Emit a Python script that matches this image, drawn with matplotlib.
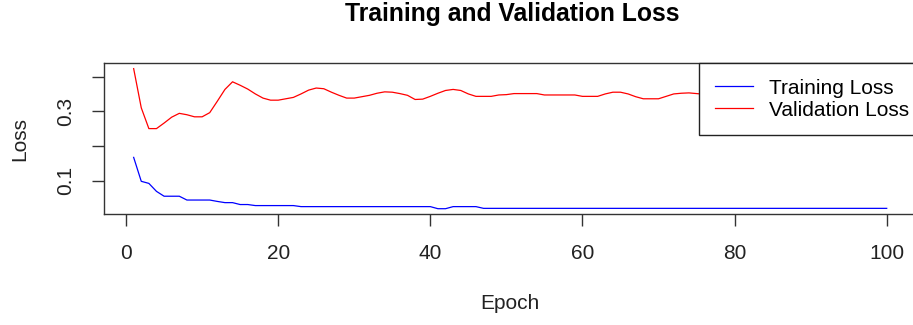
import numpy as np
import matplotlib.pyplot as plt

plt.rcParams['font.family'] = ['Liberation Sans', 'DejaVu Sans']

# Loss history per epoch
epochs = list(range(1, 101))
train_loss = [0.167, 0.098, 0.092, 0.069, 0.055, 0.055, 0.055, 0.044, 0.044, 0.044,
              0.044, 0.040, 0.0365, 0.0365, 0.031, 0.031, 0.028, 0.028, 0.028, 0.028,
              0.028, 0.028, 0.025, 0.025, 0.025, 0.025, 0.025, 0.025, 0.025, 0.025,
              0.025, 0.025, 0.025, 0.025, 0.025, 0.025, 0.025, 0.025, 0.025, 0.025,
              0.019, 0.019, 0.025, 0.025, 0.025, 0.025, 0.020, 0.020, 0.020, 0.020,
              0.020, 0.020, 0.020, 0.020, 0.020, 0.020, 0.020, 0.020, 0.020, 0.020,
              0.020, 0.020, 0.020, 0.020, 0.020, 0.020, 0.020, 0.020, 0.020, 0.020,
              0.020, 0.020, 0.020, 0.020, 0.020, 0.020, 0.020, 0.020, 0.020, 0.020,
              0.020, 0.020, 0.020, 0.020, 0.020, 0.020, 0.020, 0.020, 0.020, 0.020,
              0.020, 0.020, 0.020, 0.020, 0.020, 0.020, 0.020, 0.020, 0.020, 0.020]
val_loss = [0.423, 0.310, 0.250, 0.250, 0.266, 0.283, 0.294, 0.290, 0.284, 0.284,
            0.296, 0.329, 0.363, 0.385, 0.375, 0.364, 0.350, 0.338, 0.332, 0.332,
            0.336, 0.340, 0.350, 0.361, 0.367, 0.365, 0.355, 0.346, 0.338, 0.338,
            0.342, 0.346, 0.352, 0.356, 0.355, 0.351, 0.346, 0.334, 0.335, 0.343,
            0.352, 0.360, 0.363, 0.360, 0.350, 0.343, 0.343, 0.343, 0.347, 0.348,
            0.351, 0.351, 0.351, 0.351, 0.347, 0.347, 0.347, 0.347, 0.347, 0.343,
            0.343, 0.343, 0.350, 0.355, 0.355, 0.350, 0.342, 0.336, 0.336, 0.336,
            0.343, 0.350, 0.352, 0.353, 0.351, 0.349, 0.346, 0.344, 0.348, 0.353,
            0.356, 0.352, 0.347, 0.343, 0.345, 0.350, 0.354, 0.351, 0.346, 0.342,
            0.344, 0.349, 0.352, 0.350, 0.346, 0.344, 0.347, 0.350, 0.348, 0.346]

fs = 15
fig = plt.figure(figsize=(9.13, 3.25), dpi=100)
ax = fig.add_axes([0.1134, 0.3406, 0.8908, 0.4655])

ax.plot(epochs, train_loss, color='#0000FF', lw=0.9, label='Training Loss')
ax.plot(epochs, val_loss, color='#FF0000', lw=0.9, label='Validation Loss')

# R-style 4% padding around the data range
xmin, xmax = min(epochs), max(epochs)
ymin = min(train_loss + val_loss)
ymax = max(train_loss + val_loss)
dx = 0.04 * (xmax - xmin)
dy = 0.04 * (ymax - ymin)
ax.set_xlim(xmin - dx, xmax + dx)
ax.set_ylim(ymin - dy, ymax + dy)

ax.set_xticks([0, 20, 40, 60, 80, 100])
ax.set_yticks([0.1, 0.2, 0.3, 0.4])
ax.set_yticklabels(['0.1', '', '0.3', ''], rotation=90, va='center')
ax.tick_params(axis='both', length=8.5, width=1, colors='#333333',
               labelcolor='#222222', labelsize=fs, direction='out')
ax.tick_params(axis='x', pad=13)
ax.tick_params(axis='y', pad=12)
for s in ax.spines.values():
    s.set_color('#333333')
    s.set_linewidth(1)

ax.set_xlabel('Epoch', fontsize=fs, color='#222222', labelpad=22)
ax.set_ylabel('Loss', fontsize=fs, color='#222222', labelpad=19)
fig.text(0.5613, 0.935, 'Training and Validation Loss', fontsize=17.8,
         fontweight='bold', ha='center', va='baseline')

# legend sits in the top-right corner, nudged a little past the right edge
leg = ax.legend(loc='upper right', bbox_to_anchor=(1.01, 1), borderaxespad=0,
                fancybox=False, framealpha=1, edgecolor='#222222', fontsize=fs,
                handlelength=1.8, handletextpad=0.8, borderpad=0.75,
                labelspacing=0.15)
leg.get_frame().set_linewidth(1)

fig.savefig('out.png', dpi=100)
